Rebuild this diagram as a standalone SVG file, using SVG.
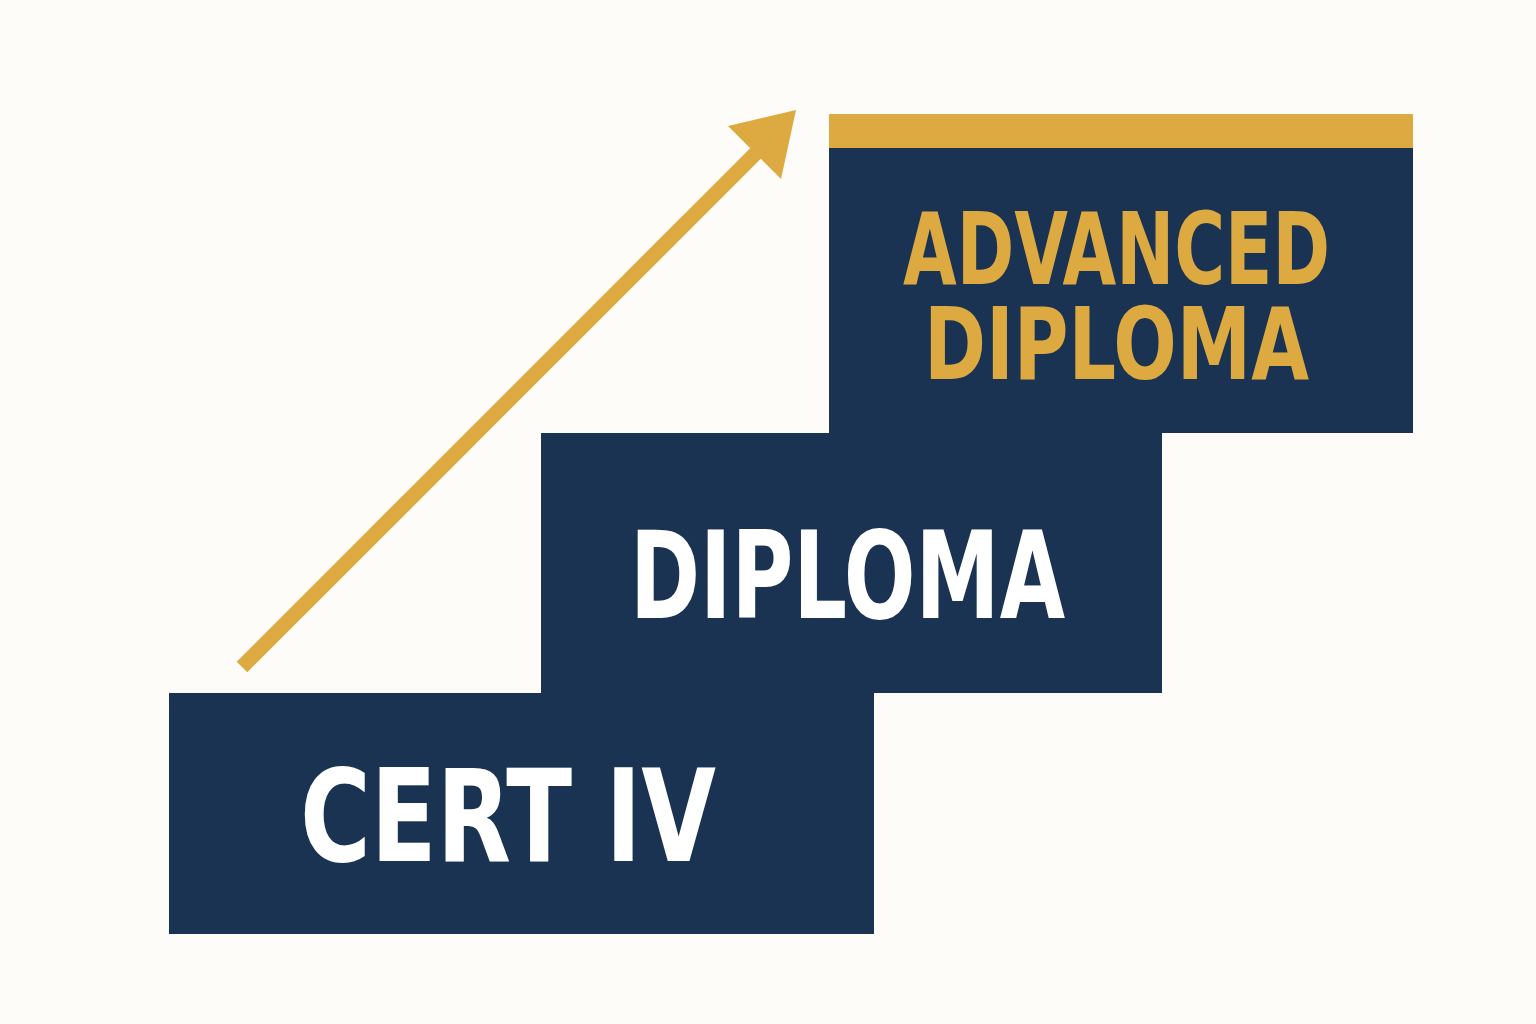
<svg xmlns="http://www.w3.org/2000/svg" width="1536" height="1024" viewBox="0 0 1536 1024">
<style>
.box{fill:#1b3352}
.gold{fill:#dcaa40}
.t{font-family:"DejaVu Sans Condensed","DejaVu Sans","Liberation Sans",sans-serif;font-weight:bold;font-stretch:condensed}
.w{fill:#ffffff}
.g{fill:#dcaa40}
</style>
<rect x="0" y="0" width="1536" height="1024" fill="#fdfcf8"/>
<g id="cert-iv">
<rect class="box" x="169" y="693" width="705" height="241"/>
<text class="t w" x="300" y="861" font-size="128" textLength="416" lengthAdjust="spacingAndGlyphs">CERT IV</text>
</g>
<g id="diploma">
<rect class="box" x="541" y="433" width="621" height="260"/>
<text class="t w" x="630" y="618" font-size="122" textLength="435" lengthAdjust="spacingAndGlyphs">DIPLOMA</text>
</g>
<g id="advanced-diploma">
<rect class="gold" x="829" y="114" width="584" height="34"/>
<rect class="box" x="829" y="148" width="584" height="285"/>
<text class="t g" x="903" y="284" font-size="99" textLength="427" lengthAdjust="spacingAndGlyphs">ADVANCED</text>
<text class="t g" x="924" y="379" font-size="99" textLength="385" lengthAdjust="spacingAndGlyphs">DIPLOMA</text>
</g>
<g id="connectors">
<line x1="242" y1="667" x2="757" y2="152" stroke="#dcaa40" stroke-width="15"/>
<polygon class="gold" points="796,110 728,126 748,146 762,160 781,179"/>
</g>
</svg>
